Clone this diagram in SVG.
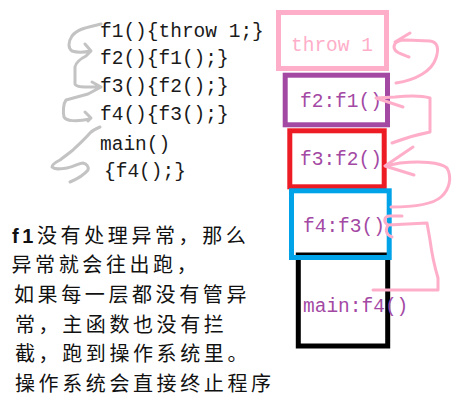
<svg xmlns="http://www.w3.org/2000/svg" width="459" height="403" viewBox="0 0 459 403">
<style>
.code{font-family:"Liberation Mono","DejaVu Sans Mono",monospace;font-size:19.5px;fill:#1a1a1a}
.lbl{font-family:"Liberation Mono","DejaVu Sans Mono",monospace;font-size:19.5px;fill:#a349a4}
.note{font-family:"Liberation Sans","Noto Sans CJK SC",sans-serif;font-size:20px;letter-spacing:3.6px;fill:#111}
.box{fill:none;stroke-width:5}
.pink{fill:none;stroke:#ffaec9;stroke-width:3;stroke-linecap:round;stroke-linejoin:round}
.gray{fill:none;stroke:#c3c3c3;stroke-width:3;stroke-linecap:round;stroke-linejoin:round}
</style>
<rect width="459" height="403" fill="#fff"/>
<g id="code">
<text class="code" x="100" y="37">f1(){throw 1;}</text>
<text class="code" x="100" y="64">f2(){f1();}</text>
<text class="code" x="100" y="92">f3(){f2();}</text>
<text class="code" x="100" y="120">f4(){f3();}</text>
<text class="code" x="100" y="150">main()</text>
<text class="code" x="104" y="177">{f4();}</text>
</g>
<g id="frame-main">
<rect class="box" x="298.3" y="255" width="89.4" height="91" stroke="#000"/>
<text class="lbl" x="303" y="312">main:f4()</text>
</g>
<g id="frame-throw">
<rect class="box" x="278.5" y="12.5" width="108" height="56" stroke="#ffaec9"/>
<text class="lbl" x="291" y="51" style="fill:#ffaec9">throw 1</text>
</g>
<g id="frame-f2">
<rect class="box" x="285.2" y="75.2" width="102.3" height="49.6" stroke="#a349a4"/>
<text class="lbl" x="300" y="107">f2:f1()</text>
</g>
<g id="frame-f3">
<rect class="box" x="289.8" y="130.8" width="94.4" height="56" stroke="#ed1c24"/>
<text class="lbl" x="300" y="165">f3:f2()</text>
</g>
<g id="frame-f4">
<rect class="box" x="291.5" y="190.8" width="97.7" height="66.7" stroke="#00a2e8"/>
<text class="lbl" x="303" y="232">f4:f3()</text>
</g>
<g id="note">
<text class="note" x="12" y="243"><tspan font-weight="bold">f1</tspan>没有处理异常，那么</text>
<text class="note" x="11.5" y="272">异常就会往出跑，</text>
<text class="note" x="14" y="302">如果每一层都没有管异</text>
<text class="note" x="15" y="332">常，主函数也没有拦</text>
<text class="note" x="15" y="361">截，跑到操作系统里。</text>
<text class="note" x="15" y="391">操作系统会直接终止程序</text>
</g>
<g id="connectors">
<path class="pink" d="M396,83 C416,80 432,71 436,58 C439,49 438,42 430,41 L406,40 C398,40 394,43 394,47 C394,52 401,54 409,57 M395,42 L410,33"/>
<path class="pink" d="M392,143 C405,138 420,134 430,132 L430,112 L430,98 C420,95 405,96 395,97 L376,98 L403,107"/>
<path class="pink" d="M391,207 C412,207 432,205 441,197 C450,189 452,177 447,168 C440,162 420,161 400,163 L385,166 L414,175 M385,166 L413,147"/>
<path class="pink" d="M373,290 L438,290 L438,278 C435,268 432,255 430,240 L427,223 L388,225 M388,225 C383,222 384,216 390,216 L402,216 M388,225 C385,230 386,235 392,237"/>
<path class="gray" d="M101,24 C90,27 78,28 72,36 C68,42 68,48 72,51 C78,53 86,52 91,51 M85,44 L91,51 L86,56 C80,59 76,62 75,67 L75,84 C76,88 88,87 101,87 M92,82 L101,87 L88,94 L66,100 C63,104 63,112 64,117 C66,121 76,122 90,119 M85,112 L91,118 L88,121"/>
<path class="gray" d="M100,127 C95,129 92,131 90,133 C84,140 78,145 73,150 C68,154 64,157 60,160 C56,162 52,164 52,167 C55,170 60,169 67,168 C74,167 79,163 83,163 C87,164 89,167 88,170 C84,175 77,179 70,182"/>
</g>
</svg>
